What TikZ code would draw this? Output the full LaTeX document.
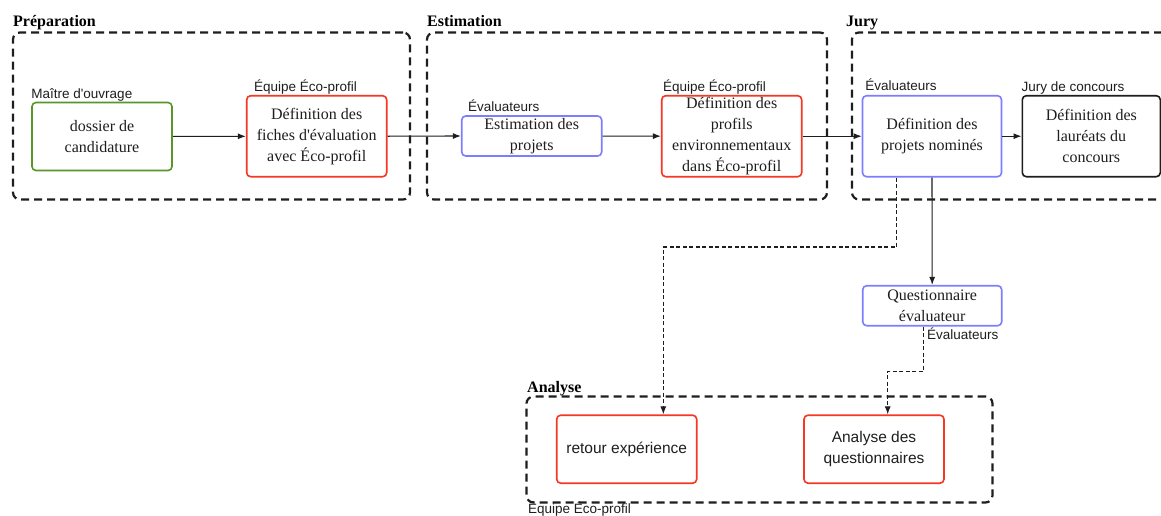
\documentclass[tikz,border=0pt]{standalone}
\usepackage{fontspec}
\setmainfont{Liberation Serif}
\setsansfont{Liberation Sans}
\usetikzlibrary{arrows.meta}
\definecolor{cgreen}{RGB}{88,150,40}
\definecolor{cred}{RGB}{245,55,35}
\definecolor{cblue}{RGB}{125,125,255}
\definecolor{cline}{RGB}{30,30,30}
\begin{document}
\begin{tikzpicture}[x=1pt,y=-1pt,
  box/.style={draw, rounded corners=4pt, line width=1.6pt, align=center, inner sep=0pt,
    text=cline, font=\fontsize{16}{21}\selectfont, minimum width=140pt},
  sbox/.style={box, font=\sffamily\fontsize{15.5}{21}\selectfont},
  lab/.style={font=\sffamily\fontsize{13.5}{16}\selectfont, inner sep=0pt, text=cline, anchor=base west},
  grplab/.style={font=\bfseries\fontsize{16}{18}\selectfont, inner sep=0pt, anchor=base west},
  grp/.style={draw=cline, dash pattern=on 8pt off 5pt, line width=2.2pt, rounded corners=7pt, inner sep=0pt},
  arr/.style={-{Latex[length=8pt,width=6pt]}, line width=1.1pt, draw=cline},
  darr/.style={arr, dash pattern=on 4pt off 2.5pt},
]
\clip (0,0) rectangle (1161,515);
\fill[white] (0,0) rectangle (1161,515);

% groups
\node[grp, minimum width=397pt, minimum height=167pt] (gprep) at (211.5,116) {};
\node[grplab] (lprep) at (13,26) {Préparation};
\node[grp, minimum width=400pt, minimum height=167pt] (gest) at (627,116) {};
\node[grplab] (lest) at (427,26) {Estimation};
\node[grp, minimum width=330pt, minimum height=167pt] (gjury) at (1017,116) {};
\node[grplab] (ljury) at (846,26) {Jury};
\node[grp, minimum width=466pt, minimum height=106pt] (gana) at (759.5,449.5) {};
\node[grplab] (lana) at (527,392) {Analyse};

% nodes
\node[box, draw=cgreen, minimum height=68pt] (dos) at (102,136.5) {dossier de\\candidature};
\node[box, draw=cred, minimum height=81pt] (fic) at (316.7,136.2) {Définition des\\fiches d\textquotesingle évaluation\\avec Éco-profil};
\node[box, draw=cblue, minimum height=40pt] (est) at (531.7,136) {Estimation des\\projets};
\node[box, draw=cred, minimum height=81pt] (pro) at (731.7,136.2) {Définition des\\profils\\environnementaux\\dans Éco-profil};
\node[box, draw=cblue, minimum height=81pt, minimum width=139pt] (nom) at (932,136.2) {Définition des\\projets nominés};
\node[box, draw=cline, minimum height=81pt, minimum width=138pt] (lau) at (1091.3,136.2) {Définition des\\lauréats du\\concours};
\node[box, draw=cblue, minimum height=40pt, minimum width=139pt] (que) at (932.2,305.7) {Questionnaire\\évaluateur};
\node[sbox, draw=cred, minimum height=68pt] (ret) at (626.7,449.2) {retour expérience};
\node[sbox, draw=cred, minimum height=68pt] (anq) at (874,449.2) {Analyse des\\questionnaires};

% role labels
\node[lab] (l1) at ([yshift=3.5pt]dos.north west) {Maître d\textquotesingle ouvrage};
\node[lab] (l2) at ([xshift=8pt,yshift=3.5pt]fic.north west) {Équipe Éco-profil};
\node[lab] (l3) at ([xshift=7pt,yshift=4pt]est.north west) {Évaluateurs};
\node[lab] (l4) at ([xshift=2pt,yshift=3.5pt]pro.north west) {Équipe Éco-profil};
\node[lab] (l5) at ([xshift=3.5pt,yshift=4pt]nom.north west) {Évaluateurs};
\node[lab] (l6) at ([yshift=3.5pt]lau.north west) {Jury de concours};
\node[lab] (l7) at (927,339) {Évaluateurs};
\node[lab] (l8) at (528,513) {Équipe Éco-profil};

% connectors
\draw[arr] (dos) -- (fic);
\draw[arr] (fic.east) -- (est.west);
\draw[arr] (est) -- (pro);
\draw[arr] (pro.east) -- (nom.west);
\draw[arr] (nom) -- (lau);
\draw[arr] (nom.south) -- (que.north);
\draw[darr] ([xshift=-35.3pt]nom.south) -- ++(0,69.5) -| ([xshift=36.6pt]ret.north);
\draw[darr] ([xshift=-8.9pt]que.south) -- ++(0,45) -| ([xshift=13.7pt]anq.north);
\end{tikzpicture}
\end{document}
